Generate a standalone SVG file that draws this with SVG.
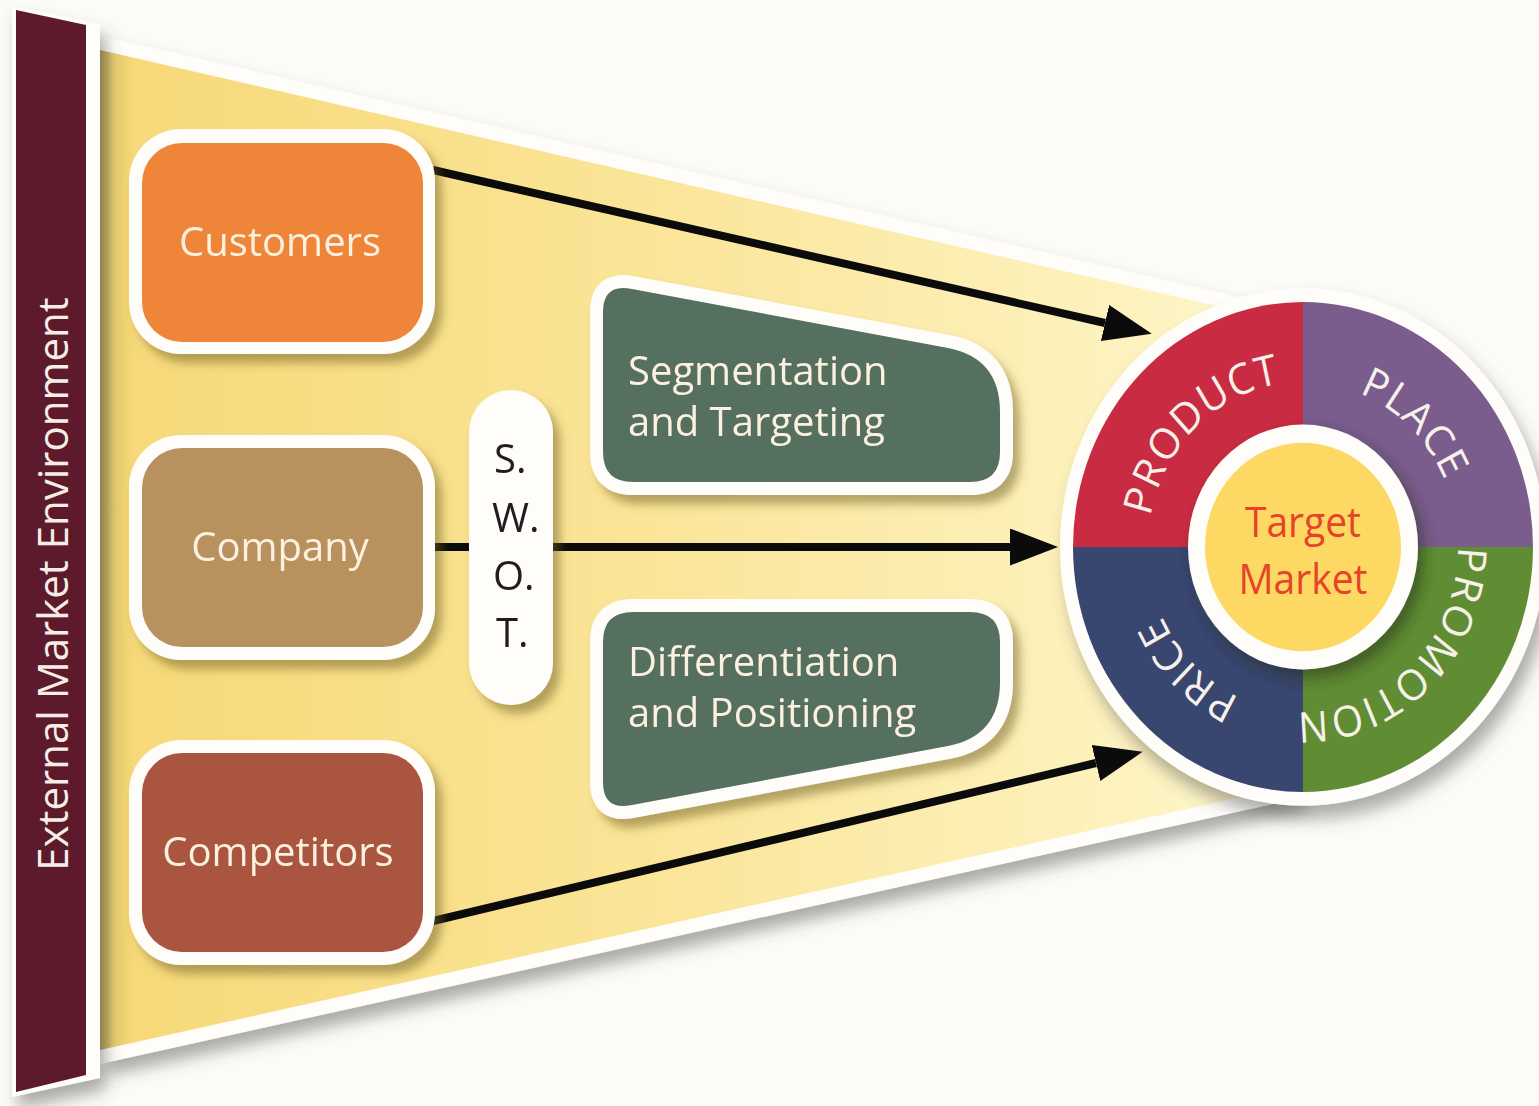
<svg xmlns="http://www.w3.org/2000/svg" width="1539" height="1106" viewBox="0 0 1539 1106">
  <style>
    .lbl { font-family: "Open Sans", "Noto Sans", sans-serif; font-size: 40px; fill: #FBF1DE; }
    .swot { font-family: "Open Sans", "Noto Sans", sans-serif; font-size: 40px; fill: #231F20; }
    .mix { font-family: "Open Sans", "Noto Sans", sans-serif; font-size: 40px; fill: #F7F1EA; letter-spacing: 1px; }
    .outline { fill: #FEFDFA; }
    .conn { stroke: #0B0B0B; stroke-width: 8; fill: none; marker-end: url(#ah); }
  </style>
  <defs>
    <linearGradient id="funnelGrad" gradientUnits="userSpaceOnUse" x1="100" y1="0" x2="1260" y2="0">
      <stop offset="0" stop-color="#B39C52"/>
      <stop offset="0.012" stop-color="#E6CB6C"/>
      <stop offset="0.03" stop-color="#F7D979"/>
      <stop offset="0.45" stop-color="#FAE496"/>
      <stop offset="1" stop-color="#FEF6CA"/>
    </linearGradient>
    <filter id="sh" x="-20%" y="-20%" width="150%" height="150%">
      <feDropShadow dx="7" dy="9" stdDeviation="5" flood-color="#6E5C1C" flood-opacity="0.5"/>
    </filter>
    <filter id="shGray" x="-20%" y="-20%" width="150%" height="150%">
      <feDropShadow dx="6" dy="12" stdDeviation="8" flood-color="#4A4A4A" flood-opacity="0.45"/>
    </filter>
    <filter id="shInner" x="-30%" y="-30%" width="170%" height="170%">
      <feDropShadow dx="6" dy="8" stdDeviation="7" flood-color="#1E2A10" flood-opacity="0.5"/>
    </filter>
    <marker id="ah" markerUnits="userSpaceOnUse" markerWidth="50" markerHeight="40" viewBox="0 0 50 40" refX="0" refY="18.5" orient="auto">
      <path d="M0,0 L48,18.5 L0,37 Z" fill="#0B0B0B"/>
    </marker>
    <path id="ring" d="M155,0 A155,155 0 1 1 -155,0 A155,155 0 1 1 155,0"/>
  </defs>

  <rect width="1539" height="1106" fill="#FCFBF7"/>

  <!-- funnel background -->
  <g id="funnel">
    <polygon points="100,36 1300,311 1300,798 100,1064" fill="#FEFDFA" filter="url(#shGray)"/>
    <polygon points="100,50 1300,325 1300,784 100,1050" fill="url(#funnelGrad)"/>
  </g>

  <!-- external environment bar -->
  <g id="external-market-environment">
    <polygon points="12,6 100,24 100,1078 12,1097" fill="#FEFDFA" filter="url(#shGray)"/>
    <polygon points="16,10 86,25 86,1075 16,1092" fill="#5E1A2D"/>
    <text transform="translate(68,584) rotate(-90)" text-anchor="middle" font-family="Open Sans, Noto Sans, sans-serif" font-size="42" fill="#F6EDE4">External Market Environment</text>
  </g>

  <!-- connectors -->
  <g id="connectors">
    <line class="conn" x1="433" y1="170" x2="1105" y2="323"/>
    <line class="conn" x1="435" y1="547" x2="1010" y2="547"/>
    <line class="conn" x1="433" y1="921" x2="1096" y2="763"/>
  </g>

  <!-- left boxes -->
  <g id="customers" filter="url(#sh)">
    <rect class="outline" x="129" y="129" width="306" height="225" rx="52"/>
    <rect x="142" y="143" width="281" height="199" rx="40" fill="#EE8539"/>
    <text class="lbl" x="280" y="256" text-anchor="middle">Customers</text>
  </g>
  <g id="company" filter="url(#sh)">
    <rect class="outline" x="129" y="435" width="306" height="225" rx="52"/>
    <rect x="142" y="448" width="281" height="199" rx="40" fill="#B8915F"/>
    <text class="lbl" x="280" y="561" text-anchor="middle">Company</text>
  </g>
  <g id="competitors" filter="url(#sh)">
    <rect class="outline" x="129" y="740" width="306" height="225" rx="52"/>
    <rect x="142" y="753" width="281" height="199" rx="40" fill="#A9543F"/>
    <text class="lbl" x="278" y="866" text-anchor="middle">Competitors</text>
  </g>

  <!-- SWOT pill -->
  <g id="swot" filter="url(#sh)">
    <rect class="outline" x="469" y="390" width="84" height="315" rx="42"/>
    <text class="swot" x="494" y="473">S.</text>
    <text class="swot" x="492" y="532">W.</text>
    <text class="swot" x="493" y="590">O.</text>
    <text class="swot" x="496" y="647">T.</text>
  </g>

  <!-- strategy shapes -->
  <g id="segmentation-targeting" filter="url(#sh)">
    <path d="M603,312 Q603,283 632,289 L948,348 Q1000,358 1000,412 L1000,452 Q1000,482 970,482 L633,482 Q603,482 603,452 Z" fill="#566F61" stroke="#FEFDFA" stroke-width="26" stroke-linejoin="round" paint-order="stroke"/>
    <text class="lbl" x="628" y="385">Segmentation</text>
    <text class="lbl" x="628" y="436">and Targeting</text>
  </g>
  <g id="differentiation-positioning" filter="url(#sh)">
    <path d="M603,782 Q603,811 632,805 L948,746 Q1000,736 1000,682 L1000,642 Q1000,612 970,612 L633,612 Q603,612 603,642 Z" fill="#566F61" stroke="#FEFDFA" stroke-width="26" stroke-linejoin="round" paint-order="stroke"/>
    <text class="lbl" x="628" y="676">Differentiation</text>
    <text class="lbl" x="628" y="727">and Positioning</text>
  </g>

  <!-- marketing mix wheel -->
  <g id="target-market" transform="translate(1303,547) scale(1,1.065)">
    <circle r="243" fill="#FEFDFA" filter="url(#shGray)"/>
    <path d="M0,0 L-230,0 A230,230 0 0 1 0,-230 Z" fill="#C92B42"/>
    <path d="M0,0 L0,-230 A230,230 0 0 1 230,0 Z" fill="#7A5C8D"/>
    <path d="M0,0 L230,0 A230,230 0 0 1 0,230 Z" fill="#608D34"/>
    <path d="M0,0 L0,230 A230,230 0 0 1 -230,0 Z" fill="#384670"/>
    <text class="mix"><textPath href="#ring" startOffset="62.8%" text-anchor="middle">PRODUCT</textPath></text>
    <text class="mix"><textPath href="#ring" startOffset="87.2%" text-anchor="middle">PLACE</textPath></text>
    <text class="mix"><textPath href="#ring" startOffset="12.8%" text-anchor="middle">PROMOTION</textPath></text>
    <text class="mix"><textPath href="#ring" startOffset="37.5%" text-anchor="middle">PRICE</textPath></text>
    <circle r="115" fill="#FEFDFA" filter="url(#shInner)"/>
    <circle r="98" fill="#FDD862"/>
    <text x="0" y="-9" text-anchor="middle" font-family="Open Sans, Noto Sans, sans-serif" font-size="39" fill="#E5432A">Target</text>
    <text x="0" y="44" text-anchor="middle" font-family="Open Sans, Noto Sans, sans-serif" font-size="39" fill="#E5432A">Market</text>
  </g>
</svg>
